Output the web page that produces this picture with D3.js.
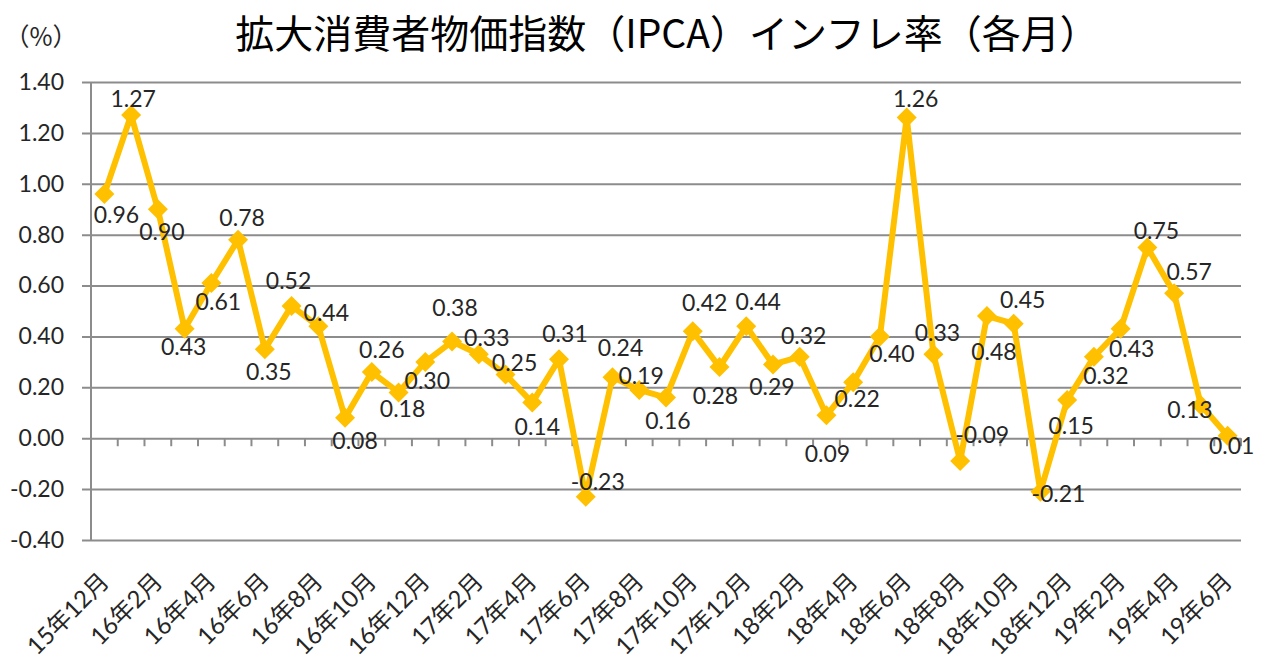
<!DOCTYPE html>
<html>
<head>
<meta charset="utf-8">
<script src="https://cdn.jsdelivr.net/npm/d3@7"></script>
<style>
  html, body { margin: 0; padding: 0; background: #fff; }
  svg { display: block; }
</style>
</head>
<body>
<svg id="chart" width="1265" height="659"></svg>
<script>
const titleText = "拡大消費者物価指数（IPCA）インフレ率（各月）";
const unitText = "（%）";
const categories = [
  "15年12月","16年1月","16年2月","16年3月","16年4月","16年5月","16年6月","16年7月","16年8月","16年9月","16年10月","16年11月","16年12月",
  "17年1月","17年2月","17年3月","17年4月","17年5月","17年6月","17年7月","17年8月","17年9月","17年10月","17年11月","17年12月",
  "18年1月","18年2月","18年3月","18年4月","18年5月","18年6月","18年7月","18年8月","18年9月","18年10月","18年11月","18年12月",
  "19年1月","19年2月","19年3月","19年4月","19年5月","19年6月"
];
const ipca = [
  0.96, 1.27, 0.90, 0.43, 0.61, 0.78, 0.35, 0.52, 0.44, 0.08, 0.26, 0.18, 0.30,
  0.38, 0.33, 0.25, 0.14, 0.31, -0.23, 0.24, 0.19, 0.16, 0.42, 0.28, 0.44,
  0.29, 0.32, 0.09, 0.22, 0.40, 1.26, 0.33, -0.09, 0.48, 0.45, -0.21, 0.15,
  0.32, 0.43, 0.75, 0.57, 0.13, 0.01
];
const yTicks = [-0.40, -0.20, 0.00, 0.20, 0.40, 0.60, 0.80, 1.00, 1.20, 1.40];

// label placement nudges (layout only), relative to each point
const labelNudge = [
  [12,21],[2,-16],[4,22],[-1,18],[7,19],[4,-22],[4,23],[-3,-25],[8,-14],[10,23],[10,-22],[4,16],[2,19],
  [3,-34],[8,-17],[9,-12],[5,24],[6,-26],[12,-15],[8,-29],[2,-14],[2,23],[12,-29],[-4,29],[12,-25],
  [-1,22],[4,-21],[1,38],[4,16],[12,17],[9,-19],[4,-22],[22,-26],[7,36],[9,-24],[18,2],[4,26],
  [12,19],[11,20],[9,-17],[15,-21],[-11,5],[4,10]
];

const svg = d3.select("#chart");
const font = "Lato, 'Noto Sans CJK JP', sans-serif";
const gridColor = "#8c8c8c";
const lineColor = "#FFC000";
const textColor = "#262626";

const plot = { left: 91, right: 1241, top: 82, bottom: 540 };

const x = d3.scaleBand().domain(categories).range([plot.left, plot.right]).padding(0);
const y = d3.scaleLinear().domain([-0.4, 1.4]).range([plot.bottom, plot.top]);
const cx = c => x(c) + x.bandwidth() / 2;
const fmt = v => v.toFixed(2);

// Title
svg.append("text")
  .attr("x", 667).attr("y", 48)
  .attr("text-anchor", "middle")
  .attr("font-family", "'Noto Sans CJK JP', sans-serif")
  .attr("font-size", 39)
  .attr("fill", "#000")
  .text(titleText);

svg.append("text")
  .attr("x", 41).attr("y", 46)
  .attr("text-anchor", "middle")
  .attr("font-family", "'Noto Sans CJK JP', sans-serif")
  .attr("font-size", 25)
  .attr("fill", textColor)
  .text(unitText);

// Gridlines + y tick labels
const yAxis = d3.axisLeft(y).tickValues(yTicks).tickFormat(fmt)
  .tickSize(-(plot.right - plot.left)).tickSizeOuter(0).tickPadding(0);
const gy = svg.append("g").attr("transform", `translate(${plot.left},0)`).call(yAxis);
gy.select(".domain").remove();
gy.selectAll(".tick line")
  .attr("x1", -9)
  .attr("stroke", gridColor).attr("stroke-width", 2);
gy.selectAll(".tick text")
  .attr("x", -27)
  .attr("font-family", font).attr("font-size", 23).attr("fill", textColor);

// Y axis line
svg.append("line")
  .attr("x1", plot.left).attr("x2", plot.left)
  .attr("y1", plot.top).attr("y2", plot.bottom)
  .attr("stroke", gridColor).attr("stroke-width", 2);

// zero axis tick marks at category boundaries
const boundaries = categories.slice(1).map(c => x(c)).concat([plot.right]);
svg.append("g").selectAll("line").data(boundaries).join("line")
  .attr("x1", d => d).attr("x2", d => d)
  .attr("y1", y(0)).attr("y2", y(0) + 8)
  .attr("stroke", gridColor).attr("stroke-width", 2);

// X labels (every other month)
svg.append("g").selectAll("text")
  .data(categories.filter((c, i) => i % 2 === 0))
  .join("text")
  .attr("transform", d => `translate(${cx(d) + 6},583) rotate(-45)`)
  .attr("text-anchor", "end")
  .attr("font-family", font).attr("font-size", 24).attr("fill", textColor)
  .text(d => d);

// Line
const data = categories.map((c, i) => ({ c, v: ipca[i], i }));
svg.append("path")
  .datum(data)
  .attr("fill", "none")
  .attr("stroke", lineColor)
  .attr("stroke-width", 6)
  .attr("stroke-linejoin", "round")
  .attr("d", d3.line().x(d => cx(d.c)).y(d => y(d.v)));

// Markers (diamonds)
const r = 10;
svg.append("g").selectAll("path").data(data).join("path")
  .attr("transform", d => `translate(${cx(d.c)},${y(d.v)})`)
  .attr("d", `M0,${-r}L${r},0L0,${r}L${-r},0Z`)
  .attr("fill", lineColor);

// Data labels
svg.append("g").selectAll("text").data(data).join("text")
  .attr("x", d => cx(d.c) + labelNudge[d.i][0])
  .attr("y", d => y(d.v) + labelNudge[d.i][1])
  .attr("dy", "0.36em")
  .attr("text-anchor", "middle")
  .attr("font-family", font).attr("font-size", 23).attr("fill", textColor)
  .text(d => fmt(d.v));
</script>
</body>
</html>
